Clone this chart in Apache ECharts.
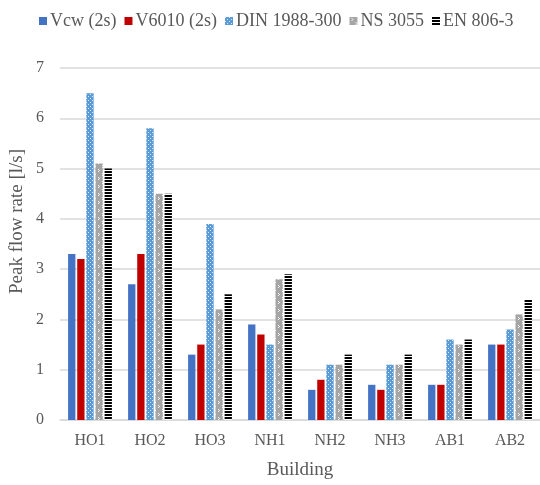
<!DOCTYPE html>
<html>
<head>
<meta charset="utf-8">
<script src="https://cdn.jsdelivr.net/npm/echarts@6/dist/echarts.min.js"></script>
<style>
  html, body { margin: 0; padding: 0; background: #fff; }
  #chart { width: 540px; height: 485px; }
</style>
</head>
<body>
<div id="chart"></div>
<script>
// Peak flow rates per building, measured vs. design standards
const buildings = ['HO1', 'HO2', 'HO3', 'NH1', 'NH2', 'NH3', 'AB1', 'AB2'];
const seriesNames = ['Vcw (2s)', 'V6010 (2s)', 'DIN 1988-300', 'NS 3055', 'EN 806-3'];
const vcw   = [3.3, 2.7, 1.3, 1.9, 0.6, 0.7, 0.7, 1.5];
const v6010 = [3.2, 3.3, 1.5, 1.7, 0.8, 0.6, 0.7, 1.5];
const din   = [6.5, 5.8, 3.9, 1.5, 1.1, 1.1, 1.6, 1.8];
const ns    = [5.1, 4.5, 2.2, 2.8, 1.1, 1.1, 1.5, 2.1];
const en    = [5.0, 4.5, 2.5, 2.9, 1.3, 1.3, 1.6, 2.4];
const yTicks = [0, 1, 2, 3, 4, 5, 6, 7];
const yTitle = 'Peak flow rate [l/s]';

// Small tiled fills for the patterned series
function makeTile(w, h, bg, fg, pixels) {
  const c = document.createElement('canvas');
  c.width = w; c.height = h;
  const ctx = c.getContext('2d');
  ctx.fillStyle = bg;
  ctx.fillRect(0, 0, w, h);
  ctx.fillStyle = fg;
  pixels.forEach(p => ctx.fillRect(p[0], p[1], p[2] || 1, p[3] || 1));
  return { image: c, repeat: 'repeat' };
}
const dotBlue = makeTile(4, 4, '#5B9BD5', '#DCEBF8', [[0, 0], [2, 2]]);
const speckGray = makeTile(8, 8, '#A5A5A5', '#F2F2F2', [[2, 1], [3, 2], [2, 3], [6, 5], [7, 6], [6, 7]]);
const stripeBlack = makeTile(4, 3, '#000000', '#FFFFFF', [[0, 2, 4, 1]]);

const fills = ['#4472C4', '#C00000', dotBlue, speckGray, stripeBlack];
const values = [vcw, v6010, din, ns, en];

const font = "'Liberation Serif', 'Times New Roman', serif";
const textColor = '#595959';

const chart = echarts.init(document.getElementById('chart'), null, { renderer: 'canvas' });
chart.setOption({
  backgroundColor: '#ffffff',
  animation: false,
  legend: {
    data: seriesNames,
    top: 7,
    left: 34,
    itemWidth: 8,
    itemHeight: 8,
    itemGap: 8,
    icon: 'rect',
    textStyle: { fontFamily: font, fontSize: 18, color: textColor, padding: [0, 0, 0, -2] }
  },
  // vertical axis title, placed a little above the plot's middle
  graphic: [{
    type: 'text',
    x: 17.5,
    y: 221.5,
    rotation: Math.PI / 2,
    style: {
      text: yTitle,
      fontFamily: font,
      fontSize: 19,
      fill: textColor,
      align: 'center',
      verticalAlign: 'middle'
    }
  }],
  grid: { left: 60, right: -4, top: 68, bottom: 61.5 },
  xAxis: {
    type: 'category',
    data: buildings,
    name: 'Building',
    nameLocation: 'middle',
    nameGap: 41,
    nameTextStyle: { fontFamily: font, fontSize: 19, color: textColor },
    axisLine: { lineStyle: { color: '#D9D9D9', width: 1.5 } },
    axisTick: { show: false },
    axisLabel: { fontFamily: font, fontSize: 16, color: textColor, margin: 13 }
  },
  yAxis: {
    type: 'value',
    min: yTicks[0],
    max: yTicks[yTicks.length - 1],
    interval: 1,
    axisLine: { show: false },
    axisTick: { show: false },
    axisLabel: { fontFamily: font, fontSize: 16, color: textColor, margin: 16 },
    splitLine: { lineStyle: { color: '#D9D9D9', width: 1.5 } }
  },
  series: seriesNames.map((name, i) => ({
    name: name,
    type: 'bar',
    data: values[i],
    barWidth: 7.3,
    barGap: '25%',
    itemStyle: { color: fills[i] }
  }))
});
</script>
</body>
</html>
